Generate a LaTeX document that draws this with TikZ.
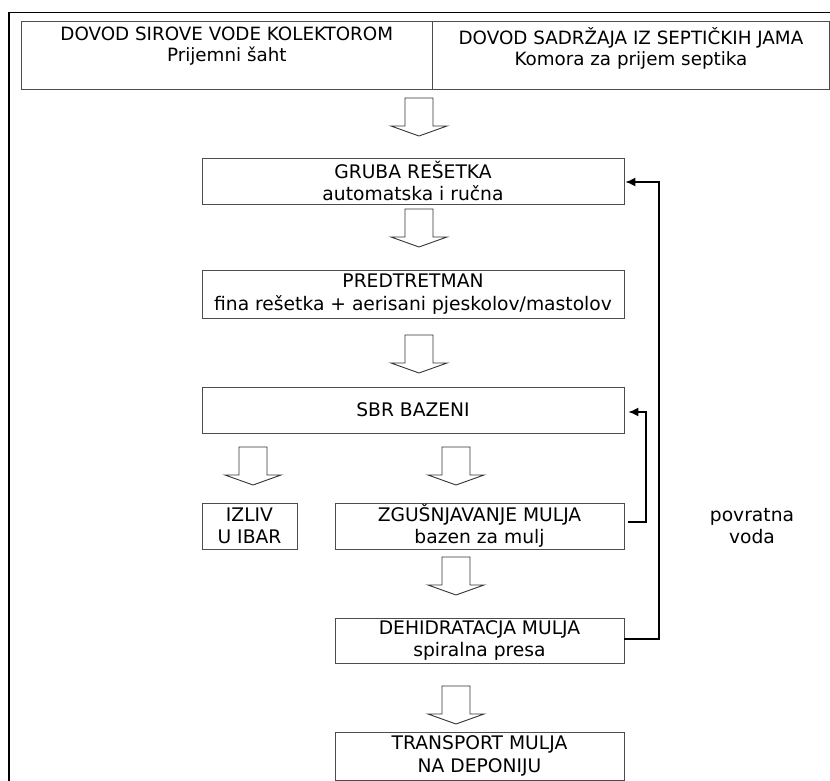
\documentclass[tikz,border=0pt]{standalone}
\usepackage{fontspec}
\setmainfont{DejaVu Sans}
\usetikzlibrary{arrows.meta}
\begin{document}
\begin{tikzpicture}[x=1pt,y=-1pt,
  box/.style={draw=black!70,line width=0.9pt,rectangle,inner sep=0pt,align=center,
    font=\fontsize{18.7}{22.5}\selectfont},
  fb/.style={draw=black,line width=1.4pt,-{Latex[length=10pt,width=9pt]}},
  fbline/.style={draw=black,line width=1.4pt},
  blockarr/.pic={
    \draw[black!80,line width=0.9pt,fill=white]
      (-14,0) -- (14,0) -- (14,28) -- (28,28) -- (0,38) -- (-28,28) -- (-14,28) -- cycle;
  }]
\useasboundingbox (0,0) rectangle (830,781);
\begin{scope}
\clip (0,0) rectangle (830,781);
% outer frame
\draw[line width=1.4pt] (9,800) -- (9,12.5) -- (840,12.5);
% top box
\node[box,minimum width=411.3pt,minimum height=68pt,anchor=north west] (src1) at (20.7,21) {};
\node[box,minimum width=397pt,minimum height=68pt,anchor=north west] (src2) at (432,21) {};
\node[font=\fontsize{18.3}{21}\selectfont,align=center,anchor=north,inner sep=0pt] (t1) at (src1.north) [yshift=-6pt] {DOVOD SIROVE VODE KOLEKTOROM\\Prijemni šaht};
\node[font=\fontsize{18.3}{21}\selectfont,align=center,anchor=north,inner sep=0pt] (t2) at (src2.north) [yshift=-6pt] {DOVOD SADRŽAJA IZ SEPTIČKIH JAMA\\Komora za prijem septika};
% process boxes
\node[box,minimum width=422pt,minimum height=46pt] (grub) at (413,181) {GRUBA REŠETKA\\automatska i ručna};
\node[box,minimum width=422pt,minimum height=48pt] (pred) at (413,294) {PREDTRETMAN\\fina rešetka + aerisani pjeskolov/mastolov};
\node[box,minimum width=422pt,minimum height=46pt] (sbr) at (413,410) {SBR BAZENI};
\node[box,minimum width=95pt,minimum height=46pt] (izliv) at (249.5,526) {IZLIV\\U IBAR};
\node[box,minimum width=289pt,minimum height=46pt] (zgus) at (479.5,526) {ZGUŠNJAVANJE MULJA\\bazen za mulj};
\node[box,minimum width=289pt,minimum height=45pt] (dehid) at (479.5,640.5) {DEHIDRATACJA MULJA\\spiralna presa};
\node[box,minimum width=289pt,minimum height=48pt] (trans) at (479.5,756) {TRANSPORT MULJA\\NA DEPONIJU};
% block arrows
\pic at (419,98) {blockarr};
\pic at (419,209) {blockarr};
\pic at (419,335) {blockarr};
\pic at (253,447) {blockarr};
\pic at (456,447) {blockarr};
\pic at (456,557) {blockarr};
\pic at (456,686) {blockarr};
% feedback
\coordinate (c1) at (659,639);
\coordinate (c2) at (659,182);
\coordinate (c3) at (646,522);
\coordinate (c4) at (646,412);
\draw[fb] (dehid.east |- c1) -- (c1) -- (c2) -- ([xshift=1pt]grub.east |- c2);
\draw[fb] ([xshift=4pt]zgus.east |- c3) -- (c3) -- (c4) -- ([xshift=4pt]sbr.east |- c4);
\node[font=\fontsize{18.7}{22}\selectfont,align=center,inner sep=0pt] (povr) at (752,526) {povratna\\voda};
\end{scope}
\end{tikzpicture}
\end{document}
